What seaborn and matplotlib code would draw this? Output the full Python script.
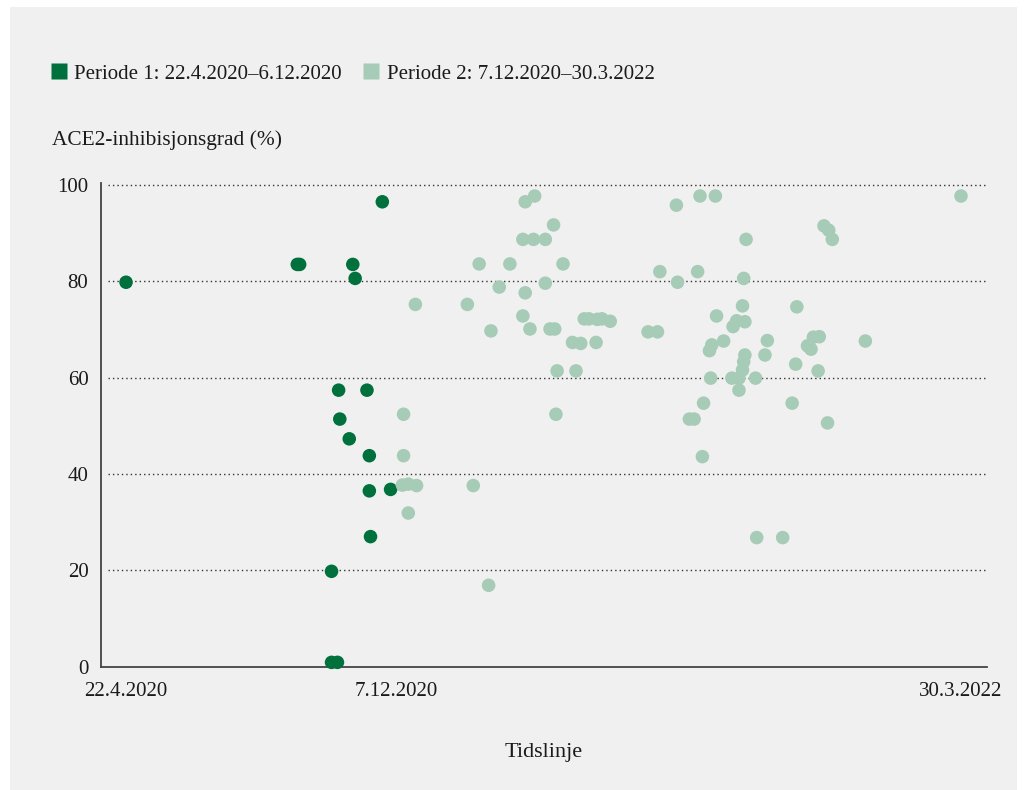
import numpy
import pandas
import seaborn as sns
import matplotlib.pyplot as plt
import matplotlib.patches as patches
from matplotlib.lines import Line2D


# Days after 22.4.2020 and ACE2 inhibition (%).
p1_days = [0, 145, 147, 192, 194, 217, 180, 204, 181, 189, 206, 206, 224, 207, 174, 174, 179]
p1_values = [79.8, 83.5, 83.5, 83.5, 80.6, 96.5, 57.4, 57.4, 51.4, 47.3, 43.8, 36.5, 36.8, 27.0, 19.8, 0.9, 0.9]

p2_days = [
    245, 235, 235, 234, 239, 246, 239, 338, 346, 362, 336, 345, 355, 299, 325, 370,
    452, 466, 467, 316, 338, 355, 289, 336, 309, 342, 359, 363, 388, 392, 399, 403,
    410, 378, 385, 398, 442, 450, 365, 381, 364, 294, 307, 486, 499, 707, 591, 595,
    598, 525, 484, 523, 522, 568, 500, 517, 524, 514, 506, 496, 494, 543, 626, 582,
    587, 577, 580, 524, 523, 522, 519, 513, 541, 567, 586, 495, 533, 519, 489, 564,
    477, 481, 594, 488, 534, 556
]
p2_values = [
    75.2, 52.4, 43.8, 37.7, 37.9, 37.6, 31.9, 96.5, 97.7, 91.7, 88.7, 88.7, 88.7, 83.6, 83.6, 83.6,
    82.0, 95.8, 79.8, 78.8, 77.6, 79.6, 75.2, 72.8, 69.7, 70.1, 70.1, 70.1, 72.2, 72.2, 72.1, 72.2,
    71.7, 67.3, 67.1, 67.3, 69.5, 69.5, 61.4, 61.4, 52.4, 37.6, 16.9, 97.7, 97.7, 97.7, 91.5, 90.6,
    88.7, 88.7, 82.0, 80.6, 74.9, 74.7, 72.8, 71.8, 71.6, 70.6, 67.6, 66.8, 65.6, 67.7, 67.6, 68.4,
    68.5, 66.6, 65.9, 64.7, 63.3, 61.6, 59.9, 59.9, 64.7, 62.8, 61.4, 59.9, 59.9, 57.4, 54.7, 54.7,
    51.4, 51.4, 50.6, 43.6, 26.8, 26.8
]

period_labels = ['Periode 1: 22.4.2020\u20136.12.2020', 'Periode 2: 7.12.2020\u201330.3.2022']
tick_days = [0, 229, 707]
tick_labels = ['22.4.2020', '7.12.2020', '30.3.2022']
y_ticks = [0, 20, 40, 60, 80, 100]

dark_green = '#00703C'
light_green = '#A6CBB6'
panel_color = '#F0F0F0'
text_color = '#1A1A1A'


def plot_inhibition_timeline():

    df = pandas.DataFrame({
        'day': p1_days + p2_days,
        'value': p1_values + p2_values,
        'period': [period_labels[0]] * len(p1_days) + [period_labels[1]] * len(p2_days)
    })

    sns.set_theme(style = 'white')
    plt.rcParams['font.family'] = ['Liberation Serif', 'DejaVu Serif']
    plt.rcParams['text.color'] = text_color

    fig = plt.figure(figsize = (10.25, 7.9), dpi = 100, facecolor = 'white')

    # Grey panel behind everything, with a thin white margin on top/left.
    fig.patches.append(patches.Rectangle(
        (10 / 1025, 0), 1007 / 1025, 783 / 790,
        transform = fig.transFigure, facecolor = panel_color, edgecolor = 'none', zorder = -10
    ))

    ax = fig.add_axes([101 / 1025, 1 - 666.7 / 790, 886 / 1025, (666.7 - 183) / 790])
    ax.set_facecolor('none')

    sns.scatterplot(
        data = df, x = 'day', y = 'value', hue = 'period',
        hue_order = period_labels[::-1],
        palette = {period_labels[0]: dark_green, period_labels[1]: light_green},
        s = 95, linewidth = 0, alpha = 1, legend = False, ax = ax, clip_on = False, zorder = 3
    )

    # Dotted horizontal gridlines.
    for y in y_ticks[1:]:
        ax.plot([-15, 729], [y, y], linestyle = (0, (1, 2.2)), color = '#333333',
                linewidth = 1.0, zorder = 1)

    ax.set_xlim(-21.2, 729)
    ax.set_ylim(0, 100.4)
    ax.set_xticks(tick_days)
    ax.set_xticklabels(tick_labels)
    ax.set_yticks(y_ticks)
    ax.tick_params(axis = 'both', length = 0, labelsize = 15, colors = text_color)
    ax.tick_params(axis = 'y', pad = 9)
    ax.tick_params(axis = 'x', pad = 11)

    for side in ['top', 'right']:
        ax.spines[side].set_visible(False)
    for side in ['left', 'bottom']:
        ax.spines[side].set_color('#444444')
        ax.spines[side].set_linewidth(1.3)

    ax.set_xlabel('Tidslinje', fontsize = 16, color = text_color, labelpad = 30)
    ax.set_ylabel(None)

    fig.text(52 / 1025, 1 - 140 / 790, 'ACE2-inhibisjonsgrad (%)', fontsize = 15.4,
             ha = 'left', va = 'center', color = text_color)

    # Legend with square markers.
    handles = [
        Line2D([], [], marker = 's', linestyle = 'none', markersize = 11,
               markerfacecolor = dark_green, markeredgecolor = 'none'),
        Line2D([], [], marker = 's', linestyle = 'none', markersize = 11,
               markerfacecolor = light_green, markeredgecolor = 'none')
    ]
    fig.legend(
        handles, period_labels, loc = 'center left',
        bbox_to_anchor = (42 / 1025, 1 - 74 / 790), bbox_transform = fig.transFigure,
        ncol = 2, frameon = False, fontsize = 15, handlelength = 0.8,
        handletextpad = 0.35, columnspacing = 1.0, borderaxespad = 0
    )

    plt.savefig('out.png', dpi = 100, facecolor = fig.get_facecolor())

    return


plot_inhibition_timeline()
